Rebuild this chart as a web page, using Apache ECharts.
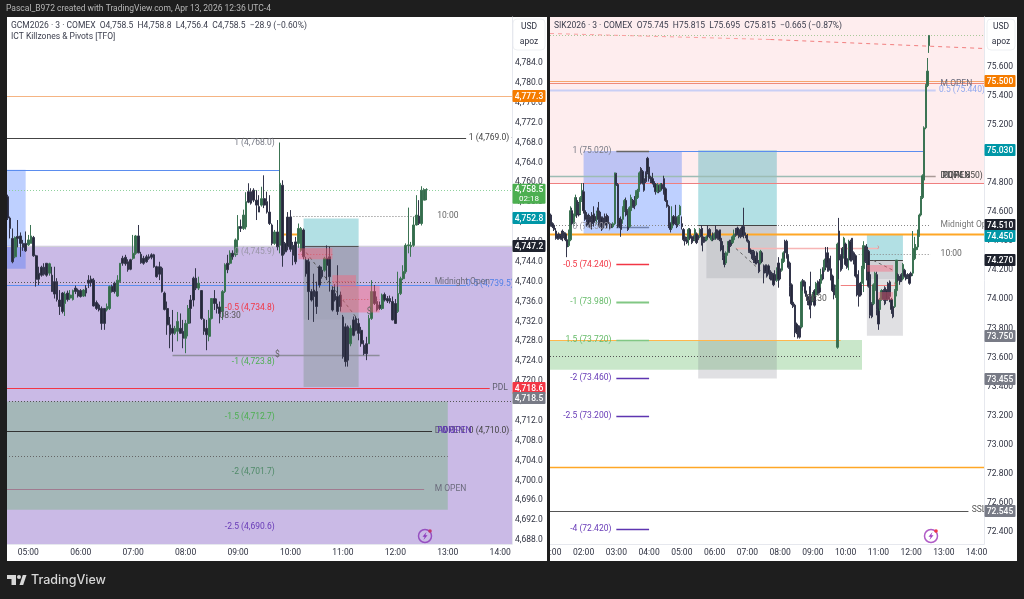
<!DOCTYPE html>
<html><head><meta charset="utf-8">
<style>html,body{margin:0;padding:0;background:#1e1e1e}#c{width:1024px;height:599px}</style>
<script src="https://cdn.jsdelivr.net/npm/echarts@6/dist/echarts.min.js"></script>
</head><body><div id="c"></div>
<script>
// ---------- values ----------
const goldTicks=[4784,4780,4776,4772,4768,4764,4760,4756,4752,4748,4744,4740,4736,4732,4728,4724,4720,4716,4712,4708,4704,4700,4696,4692,4688];
const silverTicks=[75.6,75.4,75.2,75,74.8,74.6,74.4,74.2,74,73.8,73.6,73.4,73.2,73,72.8,72.6,72.4];
// [open, close, low, high], 3-minute bars from 04:36
const goldBars=[
[4757.1,4752.8,4752.4,4757.5],[4752.8,4750.7,4748.7,4753.1],[4748.7,4744.0,4743.7,4750.7],[4745.0,4748.9,4744.7,4749.1],[4749.1,4748.7,4746.9,4752.4],
[4749.2,4747.7,4745.0,4749.9],[4747.7,4746.9,4746.2,4748.4],[4747.7,4746.2,4746.0,4750.1],[4747.4,4748.4,4747.2,4749.4],[4747.7,4749.2,4747.7,4751.4],
[4748.9,4745.2,4745.0,4749.2],[4745.2,4740.5,4739.0,4745.4],[4741.7,4740.5,4739.3,4743.0],[4742.9,4741.3,4741.0,4743.2],[4742.9,4741.5,4741.2,4743.7],
[4743.7,4741.3,4741.0,4743.7],[4741.7,4743.6,4741.2,4743.8],[4741.3,4738.0,4738.0,4743.0],[4740.0,4737.5,4736.6,4743.0],[4740.0,4736.4,4736.0,4740.7],
[4736.3,4735.0,4733.3,4738.3],[4737.7,4734.0,4733.6,4737.9],[4735.6,4737.5,4733.1,4738.0],[4737.7,4736.4,4736.0,4738.2],[4736.7,4737.3,4736.3,4738.3],
[4736.4,4738.2,4736.2,4738.4],[4738.7,4738.0,4737.5,4739.2],[4738.3,4737.1,4736.8,4738.6],[4738.2,4737.0,4736.8,4738.5],[4737.1,4738.3,4736.9,4738.5],
[4738.7,4737.7,4737.0,4739.3],[4740.3,4739.7,4738.7,4741.3],[4740.5,4739.8,4739.0,4741.2],[4740.3,4735.1,4735.0,4740.7],[4735.8,4734.6,4734.3,4736.2],
[4735.3,4734.3,4734.0,4735.6],[4734.6,4731.6,4730.3,4735.0],[4734.6,4731.6,4730.3,4734.6],[4734.3,4735.0,4734.0,4735.6],[4734.6,4739.0,4734.3,4739.2],
[4739.0,4738.0,4737.8,4739.4],[4739.7,4738.0,4737.6,4740.0],[4737.1,4740.3,4736.9,4741.3],[4740.0,4743.7,4739.8,4743.7],[4744.7,4743.7,4743.2,4745.2],
[4744.9,4743.6,4743.2,4745.4],[4744.0,4742.4,4742.0,4744.5],[4744.4,4742.5,4742.3,4744.6],[4744.7,4745.7,4744.4,4749.4],[4745.7,4749.2,4745.4,4749.4],
[4749.2,4745.8,4745.7,4751.4],[4745.5,4743.8,4743.6,4746.0],[4744.7,4743.7,4743.4,4745.2],[4745.0,4744.0,4743.8,4745.4],[4745.0,4744.7,4744.4,4745.5],
[4745.4,4744.9,4744.5,4745.7],[4745.4,4743.0,4742.8,4745.6],[4743.0,4741.0,4740.8,4743.2],[4743.0,4741.5,4740.3,4744.0],[4742.7,4738.0,4737.8,4743.0],
[4737.7,4734.4,4734.2,4738.0],[4734.6,4731.3,4729.3,4736.0],[4731.3,4729.3,4726.6,4732.9],[4730.6,4729.6,4725.9,4734.3],[4729.6,4730.6,4729.3,4731.1],
[4730.0,4732.0,4728.0,4733.9],[4730.6,4729.6,4729.6,4733.6],[4730.0,4728.6,4726.6,4732.3],[4728.6,4731.6,4725.6,4732.3],[4731.6,4734.6,4729.0,4735.3],
[4736.3,4734.6,4731.6,4737.3],[4740.7,4736.3,4735.0,4741.0],[4740.7,4738.7,4738.3,4742.7],[4738.7,4739.7,4738.3,4741.0],[4738.2,4732.6,4732.3,4738.3],
[4732.4,4730.0,4729.3,4732.6],[4730.6,4729.3,4726.2,4732.3],[4729.0,4732.6,4728.0,4734.3],[4732.6,4736.6,4732.4,4736.6],[4736.6,4735.6,4734.3,4738.3],
[4735.5,4734.6,4733.6,4736.6],[4734.9,4733.6,4731.6,4736.0],[4734.0,4738.0,4732.3,4738.3],[4738.0,4743.4,4737.7,4743.7],[4743.7,4742.4,4741.7,4745.4],
[4743.7,4745.7,4743.4,4746.3],[4745.7,4745.0,4744.4,4746.3],[4745.4,4748.4,4745.0,4748.7],[4748.4,4751.1,4745.4,4753.4],[4751.1,4750.7,4750.0,4752.5],
[4750.7,4753.4,4750.4,4754.5],[4751.0,4756.1,4750.5,4758.0],[4758.1,4756.0,4755.8,4759.8],[4758.1,4755.8,4755.5,4758.8],[4758.4,4756.4,4756.0,4758.8],
[4756.4,4755.4,4752.4,4758.4],[4755.1,4754.0,4754.0,4757.4],[4755.4,4756.7,4755.1,4759.1],[4756.7,4755.4,4754.8,4761.4],[4756.1,4754.0,4753.7,4758.1],
[4754.0,4751.7,4751.4,4757.4],[4751.4,4747.7,4747.3,4751.7],[4747.7,4750.0,4747.4,4750.4],[4750.0,4747.0,4746.3,4752.4],[4747.3,4759.8,4745.7,4768.0],
[4759.4,4745.3,4743.0,4760.4],[4747.7,4746.0,4745.5,4748.0],[4753.0,4747.0,4746.3,4754.0],[4753.0,4746.5,4746.0,4754.4],[4747.3,4745.3,4743.3,4748.0],
[4748.0,4744.0,4743.5,4749.0],[4747.7,4750.7,4746.8,4751.7],[4746.3,4750.7,4746.0,4751.0],[4750.4,4745.0,4744.5,4750.7],[4744.3,4741.6,4741.0,4745.0],
[4744.0,4738.0,4732.3,4744.7],[4738.0,4736.3,4736.0,4738.5],[4738.3,4737.0,4731.9,4741.6],[4738.0,4735.0,4733.5,4740.0],[4743.0,4739.3,4738.8,4743.3],
[4742.3,4741.0,4740.6,4743.0],[4742.3,4744.7,4742.0,4745.0],[4744.7,4743.3,4740.3,4747.3],[4745.0,4741.0,4738.0,4747.0],[4738.3,4734.3,4734.0,4739.0],
[4737.6,4736.3,4736.0,4739.5],[4737.0,4734.0,4733.3,4743.3],[4737.3,4735.0,4734.0,4738.0],[4732.9,4724.9,4724.5,4733.3],[4730.9,4723.9,4722.9,4731.6],
[4730.9,4724.2,4722.9,4731.2],[4727.5,4730.6,4727.0,4731.2],[4732.3,4729.2,4729.0,4733.0],[4732.6,4730.2,4730.0,4733.0],[4731.6,4729.6,4728.2,4732.6],
[4730.2,4727.5,4726.9,4730.9],[4727.2,4725.5,4725.2,4728.2],[4727.5,4725.5,4724.2,4728.9],[4727.5,4732.6,4727.5,4733.3],[4732.6,4738.0,4732.3,4740.3],
[4738.0,4735.6,4735.3,4739.3],[4736.0,4734.3,4734.0,4737.0],[4735.3,4734.6,4734.3,4736.0],[4734.6,4737.3,4734.3,4737.6],[4737.4,4736.3,4736.0,4737.8],
[4736.6,4736.1,4735.7,4737.1],[4736.6,4736.0,4735.6,4737.2],[4736.0,4732.3,4732.2,4737.0],[4735.6,4731.6,4731.5,4736.5],[4734.0,4737.6,4733.7,4742.0],
[4737.6,4740.6,4737.3,4741.0],[4740.6,4742.0,4740.3,4743.3],[4742.0,4747.3,4741.6,4747.7],[4747.2,4747.4,4745.7,4754.9],[4747.0,4747.3,4745.0,4748.0],
[4747.3,4751.4,4747.0,4753.0],[4751.4,4753.4,4751.3,4757.4],[4753.2,4751.7,4751.4,4756.4],[4751.7,4758.4,4751.3,4759.2],[4756.4,4758.5,4756.4,4758.8],
[4758.5,4758.5,4756.4,4758.8]];
// [open, close, low, high], 3-minute bars from 01:00
const silverBars=[
[74.58,74.51,74.50,74.59],[74.52,74.50,74.49,74.53],[74.51,74.48,74.47,74.52],[74.47,74.42,74.41,74.49],[74.44,74.42,74.41,74.45],[74.45,74.42,74.41,74.46],[74.44,74.42,74.41,74.45],[74.47,74.41,74.40,74.48],[74.46,74.43,74.42,74.47],[74.45,74.41,74.40,74.46],
[74.41,74.36,74.29,74.45],[74.37,74.47,74.36,74.48],[74.41,74.61,74.40,74.64],[74.61,74.52,74.51,74.63],[74.52,74.58,74.50,74.59],[74.58,74.70,74.57,74.72],[74.68,74.58,74.56,74.70],[74.66,74.58,74.57,74.67],[74.59,74.70,74.58,74.71],[74.68,74.75,74.67,74.80],
[74.74,74.61,74.59,74.80],[74.61,74.55,74.54,74.63],[74.58,74.55,74.50,74.60],[74.55,74.51,74.50,74.59],[74.57,74.50,74.49,74.58],[74.55,74.52,74.48,74.60],[74.58,74.53,74.50,74.64],[74.57,74.54,74.53,74.59],[74.55,74.59,74.52,74.61],[74.63,74.55,74.50,74.67],
[74.60,74.50,74.49,74.61],[74.56,74.50,74.47,74.57],[74.56,74.49,74.48,74.57],[74.56,74.52,74.51,74.59],[74.57,74.51,74.49,74.59],[74.57,74.52,74.51,74.58],[74.52,74.49,74.48,74.53],[74.51,74.50,74.49,74.52],[74.50,74.52,74.49,74.53],[74.52,74.87,74.51,74.87],
[74.86,74.79,74.78,74.87],[74.79,74.52,74.49,74.80],[74.55,74.50,74.49,74.56],[74.55,74.48,74.43,74.57],[74.55,74.63,74.52,74.64],[74.61,74.68,74.60,74.69],[74.68,74.58,74.57,74.70],[74.61,74.48,74.47,74.62],[74.50,74.63,74.49,74.64],[74.61,74.70,74.60,74.72],
[74.68,74.64,74.63,74.69],[74.68,74.63,74.62,74.71],[74.65,74.74,74.64,74.75],[74.70,74.75,74.69,74.76],[74.75,74.87,74.74,74.88],[74.90,74.80,74.79,74.91],[74.88,74.80,74.79,74.89],[74.83,74.75,74.74,74.84],[74.87,74.81,74.80,74.88],[74.97,74.87,74.86,74.98],
[74.91,74.83,74.81,74.94],[74.84,74.81,74.80,74.85],[74.83,74.80,74.79,74.87],[74.81,74.78,74.77,74.82],[74.79,74.74,74.72,74.80],[74.74,74.79,74.73,74.80],[74.78,74.74,74.73,74.79],[74.75,74.79,74.74,74.80],[74.79,74.76,74.75,74.80],[74.83,74.73,74.72,74.85],
[74.76,74.68,74.67,74.77],[74.68,74.64,74.63,74.69],[74.64,74.50,74.49,74.65],[74.52,74.48,74.46,74.53],[74.49,74.56,74.48,74.64],[74.57,74.52,74.51,74.58],[74.56,74.52,74.51,74.65],[74.56,74.50,74.49,74.57],[74.52,74.57,74.51,74.58],[74.58,74.64,74.57,74.65],
[74.52,74.50,74.48,74.57],[74.48,74.41,74.40,74.49],[74.43,74.40,74.37,74.45],[74.42,74.39,74.38,74.43],[74.41,74.48,74.37,74.49],[74.48,74.42,74.41,74.49],[74.43,74.39,74.38,74.44],[74.43,74.41,74.40,74.44],[74.41,74.48,74.40,74.49],[74.45,74.39,74.38,74.46],
[74.44,74.41,74.40,74.45],[74.43,74.48,74.42,74.49],[74.48,74.43,74.37,74.51],[74.43,74.39,74.33,74.49],[74.42,74.40,74.39,74.43],[74.41,74.43,74.40,74.44],[74.48,74.43,74.42,74.51],[74.48,74.43,74.42,74.49],[74.41,74.43,74.40,74.44],[74.45,74.41,74.40,74.46],
[74.42,74.45,74.41,74.46],[74.48,74.42,74.41,74.51],[74.47,74.42,74.41,74.48],[74.47,74.41,74.40,74.48],[74.42,74.34,74.33,74.48],[74.37,74.29,74.27,74.40],[74.30,74.24,74.22,74.32],[74.25,74.32,74.24,74.33],[74.32,74.37,74.30,74.40],[74.40,74.33,74.32,74.41],
[74.40,74.37,74.36,74.41],[74.39,74.43,74.38,74.44],[74.41,74.45,74.40,74.48],[74.48,74.44,74.43,74.49],[74.49,74.45,74.44,74.50],[74.48,74.43,74.42,74.49],[74.48,74.43,74.42,74.49],[74.50,74.44,74.43,74.51],[74.50,74.44,74.42,74.63],[74.44,74.43,74.42,74.46],
[74.44,74.40,74.39,74.45],[74.40,74.33,74.32,74.41],[74.34,74.32,74.31,74.35],[74.33,74.28,74.27,74.34],[74.33,74.26,74.25,74.34],[74.29,74.25,74.24,74.30],[74.32,74.25,74.24,74.33],[74.26,74.19,74.18,74.27],[74.25,74.33,74.24,74.34],[74.32,74.26,74.25,74.33],
[74.23,74.18,74.11,74.24],[74.23,74.19,74.18,74.24],[74.23,74.16,74.15,74.24],[74.23,74.18,74.17,74.24],[74.19,74.14,74.13,74.20],[74.18,74.14,74.13,74.19],[74.17,74.10,74.09,74.18],[74.17,74.13,74.12,74.20],[74.13,74.20,74.12,74.22],
[74.25,74.14,74.08,74.29],[74.21,74.14,74.13,74.22],[74.20,74.27,74.19,74.28],[74.26,74.32,74.25,74.33],[74.40,74.32,74.28,74.41],[74.40,74.29,74.28,74.41],[74.30,74.22,74.21,74.31],[74.25,74.09,74.02,74.26],[74.10,73.97,73.96,74.11],[73.98,73.95,73.94,73.99],
[73.96,73.83,73.74,73.97],[73.83,73.77,73.76,73.84],[73.82,73.74,73.73,73.83],[73.81,73.74,73.73,73.82],[73.81,74.12,73.80,74.13],[74.13,74.09,74.06,74.14],[74.12,74.05,74.04,74.13],[74.05,74.02,73.99,74.06],[74.02,73.97,73.96,74.03],[74.01,73.96,73.93,74.09],
[74.02,73.96,73.87,74.19],[73.99,74.04,73.98,74.05],[74.06,73.96,73.95,74.07],[74.03,74.11,74.02,74.12],[74.12,74.04,74.03,74.13],[74.12,74.05,74.04,74.14],[74.11,74.17,74.08,74.21],[74.21,74.14,74.13,74.22],[74.20,74.27,74.19,74.28],[74.29,74.22,74.20,74.36],
[74.32,74.25,74.19,74.36],[74.28,74.20,74.19,74.29],[74.21,74.14,74.13,74.30],[74.16,74.06,74.05,74.17],[74.10,74.03,74.00,74.12],[74.03,74.08,74.01,74.10],[73.67,74.38,73.66,74.39],[74.47,74.27,74.14,74.56],[74.30,74.20,74.19,74.31],[74.35,74.22,74.21,74.36],
[74.30,74.42,74.28,74.43],[74.38,74.24,74.23,74.39],[74.28,74.22,74.21,74.29],[74.28,74.35,74.20,74.41],[74.40,74.27,74.26,74.41],[74.42,74.27,74.26,74.42],[74.32,74.25,74.24,74.33],[74.30,74.16,74.15,74.31],[74.17,74.03,74.02,74.18],[74.11,74.02,73.95,74.20],
[74.11,74.03,74.02,74.12],[74.11,74.22,74.10,74.23],[74.21,74.37,74.05,74.40],[74.36,74.26,74.25,74.37],[74.36,74.27,74.13,74.38],[74.33,74.09,74.08,74.34],[74.17,73.89,73.87,74.19],[73.97,73.88,73.87,73.98],[73.97,74.10,73.96,74.11],[74.06,74.18,74.05,74.19],
[74.17,73.93,73.89,74.19],[73.94,73.83,73.79,74.00],[73.93,74.00,73.92,74.01],[74.00,74.06,73.99,74.07],[74.06,74.00,73.99,74.07],[74.08,73.97,73.96,74.09],[74.06,74.00,73.99,74.07],[74.11,74.00,73.99,74.12],[74.12,74.02,73.98,74.13],[74.00,73.93,73.90,74.01],
[73.95,73.88,73.87,73.96],[73.95,74.06,73.94,74.07],[74.06,74.27,74.02,74.27],[74.17,74.13,74.12,74.18],[74.14,74.12,74.10,74.16],[74.17,74.13,74.12,74.18],[74.14,74.24,74.13,74.25],[74.20,74.16,74.15,74.21],[74.17,74.14,74.13,74.18],[74.17,74.15,74.14,74.18],
[74.17,74.11,74.10,74.18],[74.18,74.16,74.15,74.19],[74.18,74.34,74.16,74.47],[74.28,74.35,74.27,74.43],[74.34,74.36,74.32,74.38],[74.36,74.47,74.34,74.48],[74.44,74.58,74.43,74.59],[74.58,74.70,74.57,74.71],[74.70,74.85,74.69,74.86],[74.82,75.18,74.81,75.19],
[75.18,75.47,75.17,75.48],[75.47,75.57,75.46,75.66],[75.745,75.815,75.695,75.815]];

// ---------- drawings on each panel ----------
const P='rgba(103,58,183,.35)',B='rgba(41,98,255,.3)',T='rgba(0,151,167,.3)',G='rgba(76,175,80,.3)',Y='rgba(120,123,134,.23)';
// [from, to, priceTop, priceBottom, fill]  (null = panel edge)
const goldZones=[
[null,null,4747.2,4687.2,P],[null,'04:57',4762.5,4742.6,B],[null,'13:00',4715.9,4694.1,G],
['10:15','11:18',4747.2,4718.8,'rgba(110,140,120,.35)'],['10:15','11:18',4747.2,4732.4,'rgba(120,123,134,.1)'],['10:15','11:18',4752.7,4747.2,T]];
const goldPink=[['10:09','10:48',4746.7,4744.5],['10:48','11:15',4741.3,4739.0],['10:57','11:42',4739.1,4733.8]];
const silverZones=[
[null,null,75.95,74.80,'rgba(242,54,69,.09)'],['02:00','05:00',75.02,74.45,B],[null,'10:30',73.72,73.515,G],
['05:30','07:54',75.025,74.51,T],['05:30','07:54',74.51,73.455,Y],['05:45','07:54',74.51,74.145,'rgba(120,123,134,.2)'],
['10:39','11:45',74.45,74.27,T],['10:39','11:45',74.27,73.75,Y],['10:39','11:45',74.27,74.14,'rgba(120,123,134,.15)']];
const silverPink=[['10:39','11:27',74.236,74.19],['11:00','11:27',74.05,73.995]];
const DOT=[1,2],DASH=[3,3];
// [from, to, priceStart, priceEnd, colour, width, dash]
const goldLines=[
[null,null,4777.3,4777.3,'#f5b483',1],[null,'13:21',4769,4769,'#444',1],[null,'09:48',4762.5,4762.5,'#5b8def',1],
[null,null,4758.5,4758.5,'#8fd19e',1,DOT],['10:00','12:27',4753.2,4753.2,'#777',1,DOT],[null,null,4747.2,4747.2,'#d2d2d8',1],
['10:15','11:18',4747.2,4747.2,'#555',1],[null,'13:21',4739.4,4739.4,'#5b8def',1],[null,'12:42',4739.9,4739.9,'#555',1,DOT],
[null,'13:48',4718.6,4718.6,'#f23645',1],[null,null,4716,4716,'#555',1,DOT],[null,'12:42',4710,4710,'#333',1],
[null,'13:00',4705,4705,'#666',1,DOT],[null,'12:33',4698.3,4698.3,'#a07b90',1],['07:45','11:42',4725.2,4725.2,'#8d8d9a',1.5],
['09:45','10:09',4749.6,4749.6,'#ffa726',2],['10:18','11:18',4746,4732.3,'#555',1,DASH],
['10:09','10:48',4745.6,4745.6,'#b85a6a',1,DOT],['10:48','11:15',4740.2,4740.2,'#b85a6a',1,DOT],['10:57','11:42',4736.5,4736.5,'#b85a6a',1,DOT]];
const silverLines=[
[null,null,75.5,75.5,'#f5a66c',1],[null,null,75.485,75.485,'#ef8a7a',1],[null,'12:45',75.44,75.44,'#c9cff5',2],
['04:00','12:24',75.02,75.02,'#5b8def',1],[null,'12:24',74.85,74.85,'#9dbcb4',1.5],['12:24','12:45',74.85,74.85,'#a89a96',1.5],
[null,null,74.80,74.80,'#ef7f7f',1],[null,null,74.45,74.45,'#ffa726',2],[null,'12:36',74.51,74.51,'#888',1,DOT],
['10:24','12:36',74.31,74.31,'#888',1,DOT],[null,null,75.815,75.815,'#a9c99a',1,DOT],
[null,'07:42',75.832,75.79,'#f9a0a0',1,[4,4]],['07:42',null,75.79,75.729,'#f27f7f',1,[4,4]],
[null,'09:51',73.72,73.72,'#ffb74d',1],[null,'10:30',73.61,73.61,'#555',1,DOT],[null,null,72.85,72.85,'#ffa726',1.5],
[null,'13:45',72.545,72.545,'#555',1],['06:39','11:00',74.353,74.353,'#f7b5b5',1.5],['09:51','11:30',74.10,74.10,'#f08080',1.2],
['05:30','07:54',74.51,74.51,'#444',1],['10:39','11:45',74.27,74.27,'#444',1],['06:39','07:24',74.35,74.2,'#666',1,DASH],['10:51','11:39',74.27,74.18,'#666',1,DASH],
['03:00','04:00',75.02,75.02,'#666',1.5],['03:00','04:00',74.5,74.5,'#7383ad',1.5],['03:00','04:00',74.24,74.24,'#f23645',1.5],['03:00','04:00',73.98,73.98,'#81c784',2],
['03:00','04:00',73.72,73.72,'#81c784',1.5],['03:00','04:00',73.46,73.46,'#5e35b1',1.5],['03:00','04:00',73.2,73.2,'#5e35b1',1.5],['03:00','04:00',72.42,72.42,'#5e35b1',1.5]];
// [time, price, text, colour, align]
const goldTexts=[
['09:42',4768,'1 (4,768.0)','#787b86','right'],['09:42',4745.9,'0 (4,745.9)','#9a97a8','right'],['09:42',4734.8,'-0.5 (4,734.8)','#f23645','right'],
['09:42',4723.8,'-1 (4,723.8)','#4caf50','right'],['09:42',4712.7,'-1.5 (4,712.7)','#4caf50','right'],['09:42',4701.7,'-2 (4,701.7)','#4f8a68','right'],['09:42',4690.6,'-2.5 (4,690.6)','#673ab7','right'],
['13:24',4769,'1 (4,769.0) -','#444','left'],['13:24',4710,'0 (4,710.0) -','#444','left'],['13:21',4739.5,'0.5 (4,739.5)','#4f7fe8','left'],
['12:45',4739.9,'Midnight Open','#6b6b7c','left'],['13:51',4718.6,'PDL','#5f5f6e','left'],['12:45',4698.3,'M OPEN','#6b6b7c','left'],['12:45',4710,'D OPEN','#5f5f6e','left'],['12:48',4710,'PDH','#5e35b1','left'],['12:51',4710,'W OPEN','#5e35b1','left'],
['12:48',4753.2,'10:00','#666','left'],['08:51',4733.1,'08:30','#555','center'],['09:45',4725.2,'$','#666','center'],['11:30',4733.9,'$','#666','center']];
const silverTexts=[
['02:51',75.02,'1 (75.020)','#787b86','right'],['02:51',74.5,'0 (74.500)','#9a9aa5','right'],['02:51',74.24,'-0.5 (74.240)','#f23645','right'],['02:51',73.98,'-1 (73.980)','#66bb6a','right'],
['02:51',73.72,'1.5 (73.720)','#66bb6a','right'],['02:51',73.46,'-2 (73.460)','#673ab7','right'],['02:51',73.2,'-2.5 (73.200)','#673ab7','right'],['02:51',72.42,'-4 (72.420)','#673ab7','right'],
['12:54',75.48,'M OPEN','#6b6b7c','left'],['12:51',75.44,'0.5 (75.440) -','#8fa8ef','left'],['12:54',74.85,'D OPEN','#444','left'],['12:57',74.85,'PDH','#444','left'],['13:00',74.85,'0 (74.850)','#444','left'],
['12:54',74.51,'Midnight Open','#777','left'],['12:54',74.31,'10:00','#666','left'],['09:06',74.0,'08:30','#555','center'],['13:51',72.55,'SSL','#555','left'],
['11:00',74.353,'›','#d98a8a','center'],['11:30',74.10,'›','#e06060','center']];
// [price, text, colour, pixel shift]
const goldBadges=[[4777.3,'4,777.3','#f57c00',0],[4752.8,'4,752.8','#0097a7',0],[4747.2,'4,747.2','#1e222d',0],[4718.6,'4,718.6','#f23645',0],[4718.5,'4,718.5','#787b86',10]];
const silverBadges=[[75.5,'75.500','#f57c00',0],[75.03,'75.030','#0097a7',0],[74.51,'74.510','#1e222d',0],[74.45,'74.450','#0097a7',2],[74.27,'74.270','#1e222d',0],[73.75,'73.750','#787b86',0],[73.455,'73.455','#787b86',0],[72.545,'72.545','#787b86',0]];

const FONT='Roboto,sans-serif';
function cats(startMin,n){const o=[];for(let i=0;i<n;i++){const m=startMin+3*i;o.push(String(Math.floor(m/60)).padStart(2,'0')+':'+String(m%60).padStart(2,'0'));}return o;}
const goldCats=cats(276,193), silverCats=cats(60,265);
function idx(list,t){return list.indexOf(t);}

function rectSeries(k,list,catList,z,fill){
 return {type:'custom',xAxisIndex:k,yAxisIndex:k,z:z,clip:true,silent:true,animation:false,data:list.map((_,i)=>[i,list[i][2]]),
  renderItem(p,api){const d=list[p.dataIndex],cs=p.coordSys;
   const x0=d[0]?api.coord([idx(catList,d[0]),d[2]])[0]:cs.x, x1=d[1]?api.coord([idx(catList,d[1]),d[2]])[0]:cs.x+cs.width;
   const y0=api.coord([0,d[2]])[1], y1=api.coord([0,d[3]])[1];
   return {type:'rect',shape:{x:x0,y:y0,width:x1-x0,height:y1-y0},style:{fill:fill||d[4]}};}};
}
function lineSeries(k,list,catList,z){
 return {type:'custom',xAxisIndex:k,yAxisIndex:k,z:z,clip:true,silent:true,animation:false,data:list.map((_,i)=>[i,list[i][2]]),
  renderItem(p,api){const d=list[p.dataIndex],cs=p.coordSys;
   const x0=d[0]?api.coord([idx(catList,d[0]),d[2]])[0]:cs.x, x1=d[1]?api.coord([idx(catList,d[1]),d[2]])[0]:cs.x+cs.width;
   const y0=Math.round(api.coord([0,d[2]])[1])+.5, y1=Math.round(api.coord([0,d[3]])[1])+.5;
   return {type:'line',shape:{x1:x0,y1:y0,x2:x1,y2:y1},style:{stroke:d[4],lineWidth:d[5],lineDash:d[6]||null,fill:null}};}};
}
function textSeries(k,list,catList,z){
 return {type:'custom',xAxisIndex:k,yAxisIndex:k,z:z,clip:true,silent:true,animation:false,data:list.map((_,i)=>[i,list[i][1]]),
  renderItem(p,api){const d=list[p.dataIndex];const c=api.coord([idx(catList,d[0]),d[1]]);
   return {type:'text',x:c[0],y:c[1],style:{text:d[2],fill:d[3],align:d[4],verticalAlign:'middle',font:'8.5px '+FONT}};}};
}
function badgeSeries(k,list,w){
 return {type:'custom',xAxisIndex:k,yAxisIndex:k,z:20,clip:false,silent:true,animation:false,data:list.map((_,i)=>[i,list[i][0]]),
  renderItem(p,api){const d=list[p.dataIndex],cs=p.coordSys;const y=api.coord([0,d[0]])[1]+d[3],x=cs.x+cs.width+.5;
   return {type:'group',children:[
    {type:'rect',shape:{x:x,y:Math.round(y-6),width:w,height:12,r:1},style:{fill:d[2]}},
    {type:'text',x:x+w/2,y:Math.round(y)+.5,style:{text:d[1],fill:'#fff',align:'center',verticalAlign:'middle',font:'500 8.5px '+FONT}}]};}};
}
// bigger current-price badge with countdown
const goldLast=[[4758.5,'4,758.5','02:18','#4caf50']];
function lastBadge(k,list,w){
 return {type:'custom',xAxisIndex:k,yAxisIndex:k,z:21,clip:false,silent:true,animation:false,data:[[0,list[0][0]]],
  renderItem(p,api){const d=list[0],cs=p.coordSys;const y=api.coord([0,d[0]])[1],x=cs.x+cs.width+.5;
   return {type:'group',children:[
    {type:'rect',shape:{x:x,y:y-6,width:w,height:20,r:1},style:{fill:d[3]}},
    {type:'text',x:x+w/2,y:y,style:{text:d[1],fill:'#fff',align:'center',verticalAlign:'middle',font:'500 8.5px '+FONT}},
    {type:'text',x:x+w/2,y:y+9,style:{text:d[2],fill:'#fff',align:'center',verticalAlign:'middle',font:'8px '+FONT}}]};}};
}
function candle(k,data,bw){return {type:'candlestick',xAxisIndex:k,yAxisIndex:k,z:5,data:data,barWidth:bw,clip:true,silent:true,animation:false,
  itemStyle:{color:'#356b4c',color0:'#26283a',borderColor:'#3c7454',borderColor0:'#33354a',borderWidth:1}};}

const axisCol='#e6e8ee',txtCol='#2e3140';
function xAxis(k,list){return {type:'category',gridIndex:k,data:list,axisTick:{show:false},axisLine:{lineStyle:{color:axisCol}},splitLine:{show:false},
  axisLabel:{interval:(i,v)=>v.endsWith(':00'),color:txtCol,fontSize:8.5,fontFamily:FONT,margin:4,hideOverlap:false}};}
function yAxis(k,ticks,min,max,fmt){return {type:'value',gridIndex:k,position:'right',min:min,max:max,scale:true,axisTick:{show:false},splitLine:{show:false},
  axisLine:{show:true,onZero:false,lineStyle:{color:axisCol}},axisLabel:{customValues:ticks,formatter:fmt,color:txtCol,fontSize:8.5,fontFamily:FONT,margin:3}};}

function bolt(cx,cy){return {type:'group',x:cx,y:cy,z:60,children:[
 {type:'circle',shape:{cx:0,cy:0,r:6.5},style:{fill:'#fff',stroke:'#b05cc6',lineWidth:1.5}},
 {type:'polygon',shape:{points:[[1.5,-4],[-2.5,.8],[-.3,.8],[-1.5,4],[2.5,-.8],[.3,-.8]]},style:{fill:'#a03cc0'}},
 {type:'circle',shape:{cx:5,cy:-5,r:1.8},style:{fill:'#f23645'}}]};}
function usd(x,w){return {type:'group',z:60,children:[
 {type:'rect',shape:{x:x,y:19,width:w,height:31,r:4},style:{fill:'#fff',stroke:'#eef0f3',lineWidth:1}},
 {type:'text',x:x+w/2,y:27,style:{text:'USD',fill:txtCol,align:'center',verticalAlign:'middle',font:'8.5px '+FONT}},
 {type:'text',x:x+w/2,y:42,style:{text:'apoz',fill:txtCol,align:'center',verticalAlign:'middle',font:'8.5px '+FONT}}]};}

const chart=echarts.init(document.getElementById('c'),null,{renderer:'canvas'});
chart.setOption({
 animation:false,backgroundColor:'#1e1e1e',
 grid:[{left:6,right:512,top:17,bottom:55},{left:550,right:40,top:17,bottom:55}],
 xAxis:[xAxis(0,goldCats),xAxis(1,silverCats)],
 yAxis:[yAxis(0,goldTicks,4687.2,4793.26,v=>v.toLocaleString('en-US',{minimumFractionDigits:1,maximumFractionDigits:1})),
        yAxis(1,silverTicks,72.317,75.942,v=>v.toFixed(3))],
 series:[
  rectSeries(0,goldZones,goldCats,1),lineSeries(0,goldLines,goldCats,3),candle(0,goldBars,2.2),
  rectSeries(0,goldPink,goldCats,6,'rgba(255,95,120,.42)'),textSeries(0,goldTexts,goldCats,8),
  badgeSeries(0,goldBadges,33),lastBadge(0,goldLast,33),
  rectSeries(1,silverZones,silverCats,1),lineSeries(1,silverLines,silverCats,3),candle(1,silverBars,1.8),
  rectSeries(1,silverPink,silverCats,6,'rgba(255,95,120,.4)'),textSeries(1,silverTexts,silverCats,8),
  badgeSeries(1,silverBadges,31)
 ],
 graphic:{elements:[
  {type:'rect',z:-5,shape:{x:7,y:17,width:540,height:544},style:{fill:'#fff'}},
  {type:'rect',z:-5,shape:{x:550,y:17,width:467,height:544},style:{fill:'#fff'}},
  {type:'rect',z:50,shape:{x:0,y:0,width:7,height:599},style:{fill:'#1e1e1e'}},
  {type:'rect',z:50,shape:{x:513,y:545,width:34,height:16},style:{fill:'#fff'}},
  {type:'rect',z:50,shape:{x:547,y:17,width:3,height:544},style:{fill:'#1e1e1e'}},
  {type:'text',z:60,x:6,y:9,style:{text:'Pascal_B972 created with TradingView.com, Apr 13, 2026 12:36 UTC-4',fill:'#b8b8b8',verticalAlign:'middle',font:'8.5px '+FONT}},
  {type:'text',z:60,x:11,y:26,style:{text:'GCM2026 · 3 · COMEX  O4,758.5  H4,758.8  L4,756.4  C4,758.5  −28.9 (−0.60%)',fill:'#3a3d4c',verticalAlign:'middle',font:'8.5px '+FONT}},
  {type:'text',z:60,x:11,y:37,style:{text:'ICT Killzones & Pivots [TFO]',fill:'#3a3d4c',verticalAlign:'middle',font:'8.5px '+FONT}},
  {type:'text',z:60,x:554,y:26,style:{text:'SIK2026 · 3 · COMEX  O75.745  H75.815  L75.695  C75.815  −0.665 (−0.87%)',fill:'#3a3d4c',verticalAlign:'middle',font:'8.5px '+FONT}},
  usd(513,32),usd(987,28),bolt(425,536),bolt(931,536),
  {type:'rect',z:60,shape:{x:7,y:575,width:9,height:4},style:{fill:'#d8d8d8'}},
  {type:'rect',z:60,shape:{x:11.5,y:575,width:4.5,height:10},style:{fill:'#d8d8d8'}},
  {type:'circle',z:60,shape:{cx:19,cy:577,r:2},style:{fill:'#d8d8d8'}},
  {type:'polygon',z:60,shape:{points:[[19.5,585],[22.8,575],[26.5,575],[23.2,585]]},style:{fill:'#d8d8d8'}},
  {type:'text',z:60,x:31,y:580,style:{text:'TradingView',fill:'#d8d8d8',verticalAlign:'middle',font:'500 12.5px Inter,sans-serif'}}
 ]}
});
</script></body></html>
